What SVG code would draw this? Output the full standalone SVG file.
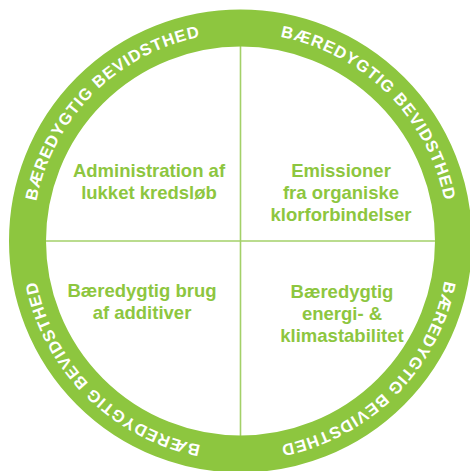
<svg xmlns="http://www.w3.org/2000/svg" xmlns:xlink="http://www.w3.org/1999/xlink" width="470" height="471" viewBox="0 0 470 471">
  <style>
    .ring { fill: none; stroke: #8dc63f; stroke-width: 37; }
    .div { stroke: #a3d068; stroke-width: 1.6; fill: none; }
    .ringtxt { font-family: "Liberation Sans", Arial, sans-serif; font-weight: bold; font-size: 16.5px; fill: #ffffff; letter-spacing: 1px; }
    .lbl { font-family: "Liberation Sans", Arial, sans-serif; font-weight: bold; font-size: 18.5px; fill: #8dc63f; text-anchor: middle; }
  </style>
  <defs>
    <path id="arcTop" d="M 32.5 241 A 208 208 0 0 1 448.5 241"/>
  </defs>
  <rect width="470" height="471" fill="#ffffff"/>
  <g id="dividers">
    <line class="div" x1="240.5" y1="40" x2="240.5" y2="440"/>
    <line class="div" x1="40" y1="241" x2="440" y2="241"/>
  </g>
  <g id="ring">
    <circle class="ring" cx="240.5" cy="241" r="213"/>
    <g transform="rotate(-45 240.5 241)">
      <text class="ringtxt"><textPath xlink:href="#arcTop" href="#arcTop" startOffset="50%" text-anchor="middle">BÆREDYGTIG BEVIDSTHED</textPath></text>
    </g>
    <g transform="rotate(45 240.5 241)">
      <text class="ringtxt"><textPath xlink:href="#arcTop" href="#arcTop" startOffset="50%" text-anchor="middle">BÆREDYGTIG BEVIDSTHED</textPath></text>
    </g>
    <g transform="rotate(135 240.5 241)">
      <text class="ringtxt"><textPath xlink:href="#arcTop" href="#arcTop" startOffset="50%" text-anchor="middle">BÆREDYGTIG BEVIDSTHED</textPath></text>
    </g>
    <g transform="rotate(225 240.5 241)">
      <text class="ringtxt"><textPath xlink:href="#arcTop" href="#arcTop" startOffset="50%" text-anchor="middle">BÆREDYGTIG BEVIDSTHED</textPath></text>
    </g>
  </g>
  <g id="q1">
    <text class="lbl" x="149" y="177">Administration af</text>
    <text class="lbl" x="149" y="199">lukket kredsløb</text>
  </g>
  <g id="q2">
    <text class="lbl" x="341" y="177">Emissioner</text>
    <text class="lbl" x="341" y="199">fra organiske</text>
    <text class="lbl" x="341" y="221">klorforbindelser</text>
  </g>
  <g id="q3">
    <text class="lbl" x="142" y="297">Bæredygtig brug</text>
    <text class="lbl" x="142" y="319">af additiver</text>
  </g>
  <g id="q4">
    <text class="lbl" x="342" y="298">Bæredygtig</text>
    <text class="lbl" x="342" y="320">energi- &amp;</text>
    <text class="lbl" x="342" y="342">klimastabilitet</text>
  </g>
</svg>
